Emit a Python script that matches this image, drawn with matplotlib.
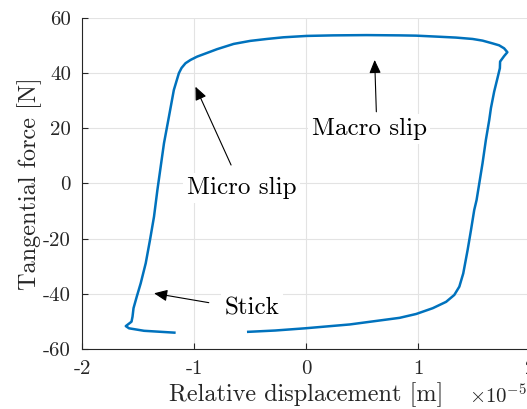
import matplotlib
matplotlib.use("Agg")
import matplotlib.pyplot as plt

plt.rcParams['font.family'] = ['cmr10', 'DejaVu Serif']
plt.rcParams['mathtext.fontset'] = 'cm'
plt.rcParams['axes.unicode_minus'] = False

# Hysteresis loop: displacement (x 1e-5 m) and tangential force (N)
disp = [-1.164, -1.446, -1.580, -1.609, -1.558, -1.549, -1.540, -1.511, -1.476,
        -1.431, -1.393, -1.357, -1.327, -1.268, -1.224, -1.180, -1.135, -1.111,
        -1.076, -1.031, -0.972, -0.853, -0.794, -0.646, -0.498, -0.349, -0.202,
        0.006, 0.243, 0.540, 0.836, 0.984, 1.191, 1.339, 1.487, 1.576,
        1.665, 1.724, 1.769, 1.798, 1.769, 1.733, 1.731, 1.709, 1.680, 1.651, 1.636,
        1.606, 1.576, 1.523, 1.502, 1.473, 1.443, 1.404, 1.369, 1.324, 1.251,
        1.132, 0.984, 0.836, 0.391, -0.009, -0.276, -0.527]
force = [-54.1, -53.4, -52.5, -51.7, -50.1, -48.3, -45.2, -41.0, -36.2,
         -28.9, -20.5, -12.0, -2.4, 14.6, 24.2, 33.9, 40.0, 41.9,
         43.6, 44.8, 46.0, 47.8, 48.7, 50.6, 51.7, 52.4, 53.0,
         53.5, 53.7, 53.8, 53.7, 53.6, 53.2, 52.9, 52.4, 51.8,
         50.8, 50.1, 49.0, 47.6, 46.2, 44.2, 41.8, 38.1, 33.3, 27.3, 23.0,
         15.8, 7.3, -6.0, -9.6, -16.9, -24.1, -32.6, -37.4, -40.4, -42.9,
         -45.2, -47.3, -48.7, -51.1, -52.5, -53.3, -53.8]

xticks = [-2, -1, 0, 1, 2]
xticklabels = ['-2', '-1', '0', '1', '2']
yticks = [-60, -40, -20, 0, 20, 40, 60]
yticklabels = ['-60', '-40', '-20', '0', '20', '40', '60']

# Annotations: label, label position, arrow tail, arrow tip
notes = [
    ('Macro slip', (0.564, 19.8), (0.628, 26.0), (0.613, 44.8)),
    ('Micro slip', (-0.572, -1.7), (-0.669, 6.7), (-0.987, 35.1)),
    ('Stick', (-0.48, -45.2), (-0.868, -43.2), (-1.357, -39.8)),
]

fig = plt.figure(figsize=(5.27, 4.09), dpi=100)
ax = fig.add_axes([0.1556, 0.1467, 0.8501, 0.8093])

ax.plot(disp, force, color='#0072BD', lw=1.8, solid_joinstyle='round',
        solid_capstyle='butt')

ax.set_xlim(-2, 2)
ax.set_ylim(-60, 60)
ax.set_xticks(xticks)
ax.set_xticklabels(xticklabels)
ax.set_yticks(yticks)
ax.set_yticklabels(yticklabels)

axis_col = '#262626'
ax.grid(True, color='#e3e3e3', lw=0.8)
ax.set_axisbelow(True)
for s in ['top', 'right']:
    ax.spines[s].set_visible(False)
for s in ['left', 'bottom']:
    ax.spines[s].set_color(axis_col)
    ax.spines[s].set_linewidth(0.8)
ax.tick_params(direction='in', length=4, width=0.8, color=axis_col,
               labelcolor=axis_col, labelsize=15)
ax.tick_params(axis='x', pad=8)
ax.tick_params(axis='y', pad=8)

ax.set_xlabel('Relative displacement [m]', fontsize=17.5, color=axis_col, labelpad=3)
ax.set_ylabel('Tangential force [N]', fontsize=17.5, color=axis_col, labelpad=1)

fig.text(469 / 527, 1 - 403 / 409, r'$\times10^{-5}$', fontsize=15,
         color=axis_col, ha='left', va='baseline')

for label, txt_pos, tail, tip in notes:
    ax.text(txt_pos[0], txt_pos[1], label, fontsize=18, ha='center', va='center',
            color='k', zorder=3,
            bbox=dict(boxstyle='square,pad=0.15', fc='white', ec='none'))
    ax.annotate('', xy=tip, xytext=tail,
                arrowprops=dict(arrowstyle='-|>,head_length=0.8,head_width=0.35',
                                color='k', lw=0.8, shrinkA=0, shrinkB=0),
                zorder=4)

fig.savefig('out.png', dpi=100)
